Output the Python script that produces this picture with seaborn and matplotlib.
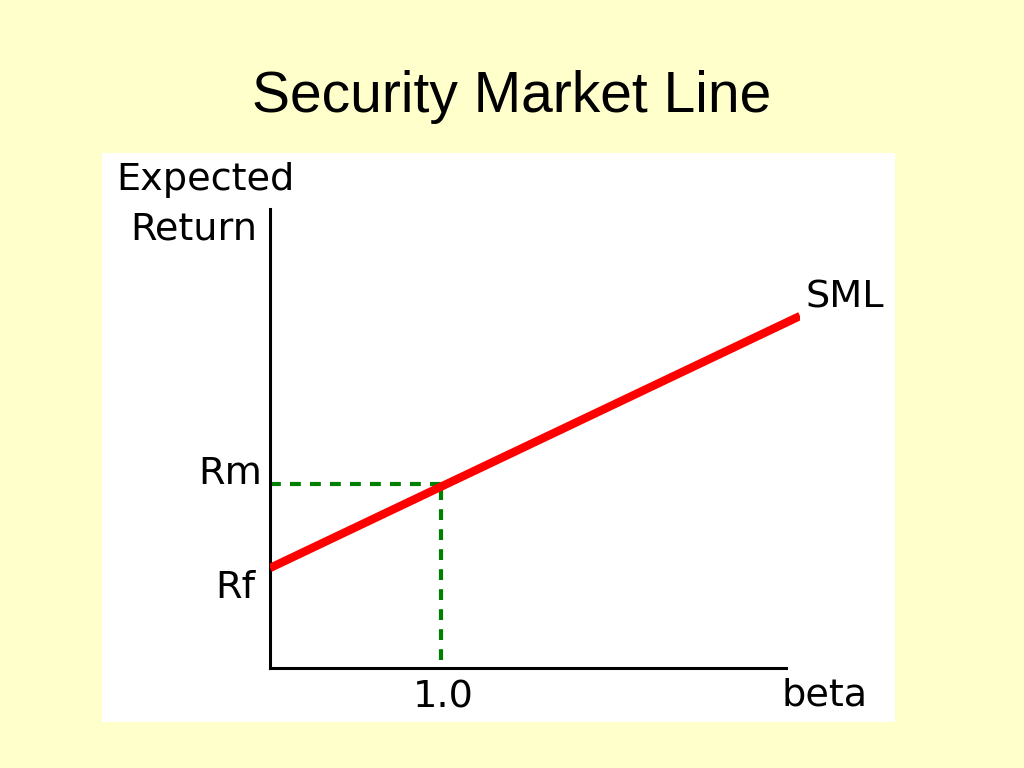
import matplotlib
matplotlib.use('Agg')
import matplotlib.pyplot as plt
from matplotlib.patches import Rectangle
import seaborn as sns
import pandas as pd

sns.set_style('white')
plt.rcParams['font.family'] = ['DejaVu Sans']
plt.rcParams['text.color'] = 'black'

# SML data (beta, expected return)
sml_beta = [0.0, 3.1]
sml_return = [5.0, 17.6]
rf = 5.0
rm = 9.2
beta_market = 1.0
x_max, y_max = 3.1, 22.95
x_axis_end = 3.02

W, H = 1024, 768
fig = plt.figure(figsize=(W / 100, H / 100), dpi=100)
fig.patch.set_facecolor('#FFFFCC')

def fx(px):
    return px / W

def fy(py):
    return 1 - py / H

# white panel behind the chart
fig.patches.append(Rectangle((fx(102), fy(722)), fx(895) - fx(102), fy(153) - fy(722),
                             transform=fig.transFigure, facecolor='white',
                             edgecolor='none', zorder=-5))

ax = fig.add_axes([fx(270), fy(668), fx(800) - fx(270), fy(209) - fy(668)])
ax.set_zorder(2)
ax.set_facecolor('none')

df = pd.DataFrame({'beta': sml_beta, 'ret': sml_return})
sns.lineplot(data=df, x='beta', y='ret', ax=ax, color='#FF0000', linewidth=6,
             solid_capstyle='butt', zorder=3)

# dashed guides to the market portfolio
dash = (0, (2.6, 2.2))
ax.plot([0, beta_market], [rm, rm], color='#008000', lw=3, linestyle=dash, zorder=2)
ax.plot([beta_market, beta_market], [0.4, rm], color='#008000', lw=3, linestyle=dash, zorder=2)

ax.set_xlim(0, x_max)
ax.set_ylim(0, y_max)
ax.set_xticks([])
ax.set_yticks([])
ax.set_xlabel('')
ax.set_ylabel('')
sns.despine(ax=ax)
for s in ['left', 'bottom']:
    ax.spines[s].set_linewidth(2.2)
    ax.spines[s].set_color('black')
ax.spines['bottom'].set_bounds(0, x_axis_end)

fs = 27.5
px = 0.72  # points per pixel
ax.annotate('Rm', xy=(0, rm), xytext=(-8 * px, 0), textcoords='offset points',
            ha='right', va='baseline', fontsize=fs, annotation_clip=False)
ax.annotate('Rf', xy=(0, rf), xytext=(-15 * px, -2 * px), textcoords='offset points',
            ha='right', va='top', fontsize=fs, annotation_clip=False)
ax.annotate('1.0', xy=(beta_market, 0), xytext=(2 * px, -12 * px), textcoords='offset points',
            ha='center', va='top', fontsize=fs, annotation_clip=False)
ax.annotate('beta', xy=(x_axis_end, 0), xytext=(38 * px, -10 * px), textcoords='offset points',
            ha='center', va='top', fontsize=fs, annotation_clip=False)
ax.annotate('SML', xy=(sml_beta[-1], sml_return[-1]), xytext=(6 * px, 18 * px),
            textcoords='offset points', ha='left', va='center', fontsize=fs,
            annotation_clip=False)

fig.text(fx(205), fy(180), 'Expected', ha='center', va='center', fontsize=fs)
fig.text(fx(194), fy(229), 'Return', ha='center', va='center', fontsize=fs)

fig.text(0.5, fy(97), 'Security Market Line', ha='center', va='center',
         fontsize=41, family=['Liberation Sans', 'DejaVu Sans'])

plt.savefig('out.png', dpi=100, facecolor=fig.get_facecolor())
